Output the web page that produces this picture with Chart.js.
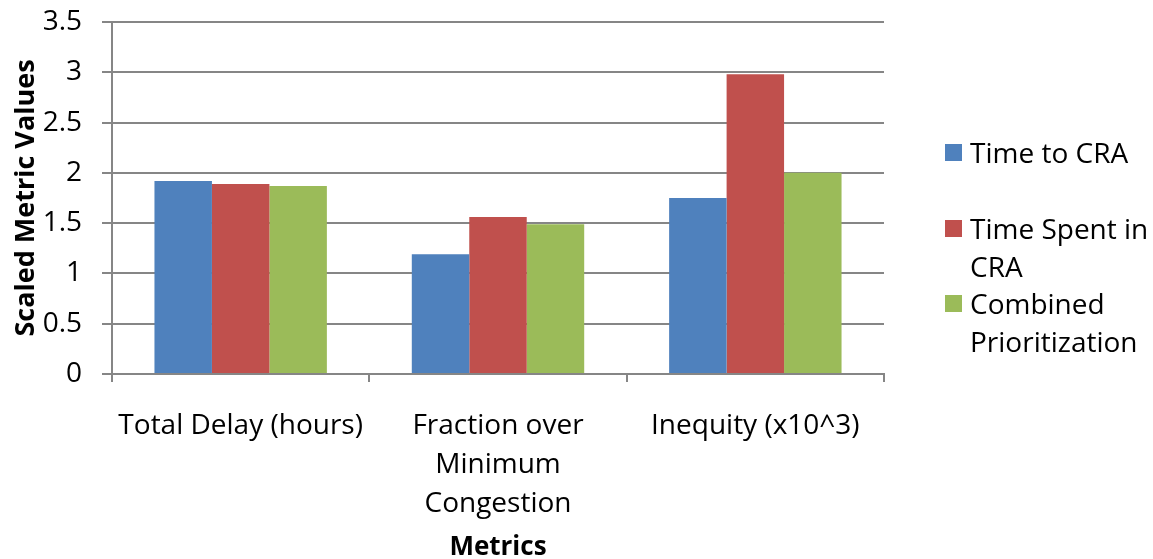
<!DOCTYPE html>
<html>
<head>
<meta charset="utf-8">
<script src="https://cdn.jsdelivr.net/npm/chart.js@4.4.0/dist/chart.umd.min.js"></script>
<style>
  html, body { margin: 0; padding: 0; background: #fff; }
  #wrap { position: relative; width: 1153px; height: 559px; }
  #grafico { position: absolute; left: 0; top: 0; }
  .leyenda { position: absolute; left: 945px; font-family: "Open Sans", sans-serif; font-size: 28px; line-height: 38px; color: #000; }
  .leyenda .caja { position: absolute; left: 0; top: 11px; width: 17px; height: 17px; }
  .leyenda .txt { position: absolute; left: 25px; white-space: nowrap; }
</style>
</head>
<body>
<div id="wrap">
  <canvas id="grafico" width="1153" height="559"></canvas>
  <div id="leyenda"></div>
</div>
<script>
/* datos del gráfico */
const CATEGORIAS = [
    "Total Delay (hours)",
    ["Fraction over", "Minimum", "Congestion"],
    "Inequity (x10^3)"
];
const SERIES = ["Time to CRA", "Time Spent in CRA", "Combined Prioritization"];
const SERIES_LINEAS = [["Time to CRA"], ["Time Spent in", "CRA"], ["Combined", "Prioritization"]];
const TIEMPO_CRA = [1.92, 1.19, 1.75];
const TIEMPO_EN_CRA = [1.89, 1.56, 2.98];
const COMBINADO = [1.87, 1.49, 2.0];
const Y_TICKS = [0, 0.5, 1, 1.5, 2, 2.5, 3, 3.5];

const COLORES = ["#4F81BD", "#C0504D", "#9BBB59"];
const GRIS = "#868686";
const FUENTE = "'Open Sans', sans-serif";

const valores = [TIEMPO_CRA, TIEMPO_EN_CRA, COMBINADO];

/* leyenda HTML a la derecha */
function pintarLeyenda() {
    const cont = document.getElementById("leyenda");
    const tops = [133, 209, 284];
    SERIES_LINEAS.forEach((lineas, i) => {
        const d = document.createElement("div");
        d.className = "leyenda";
        d.style.top = tops[i] + "px";
        d.innerHTML = `<div class="caja" style="background:${COLORES[i]}"></div>` +
            `<div class="txt">${lineas.join("<br>")}</div>`;
        cont.appendChild(d);
    });
}

const ctx = document.getElementById("grafico");

new Chart(ctx, {
    type: "bar",
    data: {
        labels: CATEGORIAS,
        datasets: SERIES.map((s, i) => ({
            label: s,
            data: valores[i],
            backgroundColor: COLORES[i],
            borderWidth: 0,
            categoryPercentage: 0.67,
            barPercentage: 1
        }))
    },
    options: {
        responsive: false,
        animation: false,
        layout: { padding: { left: 0, right: 269, top: 22, bottom: 0 } },
        plugins: {
            legend: { display: false },
            tooltip: { enabled: false }
        },
        scales: {
            x: {
                offset: true,
                grid: {
                    offset: true,
                    drawOnChartArea: false,
                    drawTicks: true,
                    tickLength: 8,
                    color: GRIS,
                    lineWidth: 2
                },
                border: { color: GRIS, width: 2 },
                ticks: {
                    color: "#000",
                    padding: 24,
                    maxRotation: 0,
                    autoSkip: false,
                    font: { family: FUENTE, size: 28, lineHeight: 1.4 }
                },
                title: {
                    display: true,
                    text: "Metrics",
                    color: "#000",
                    padding: { top: 0, bottom: -4 },
                    font: { family: FUENTE, size: 26, weight: "bold" }
                },
                afterFit: (s) => {
                    s.height = 559 - 374;
                    s.paddingLeft = 0;
                    s.paddingRight = 0;
                }
            },
            y: {
                min: 0,
                max: 3.5,
                afterBuildTicks: (s) => { s.ticks = Y_TICKS.map(v => ({ value: v })); },
                grid: {
                    color: GRIS,
                    lineWidth: 2,
                    drawTicks: true,
                    tickLength: 10
                },
                border: { color: GRIS, width: 2 },
                ticks: {
                    color: "#000",
                    padding: 20,
                    font: { family: FUENTE, size: 28 },
                    callback: (v) => String(v)
                },
                title: {
                    display: true,
                    text: "Scaled Metric Values",
                    color: "#000",
                    padding: { top: 10, bottom: 0 },
                    font: { family: FUENTE, size: 27, weight: "bold" }
                },
                afterFit: (s) => {
                    s.width = 112;
                    s.paddingTop = 0;
                    s.paddingBottom = 0;
                }
            }
        }
    }
});

pintarLeyenda();
</script>
</body>
</html>
